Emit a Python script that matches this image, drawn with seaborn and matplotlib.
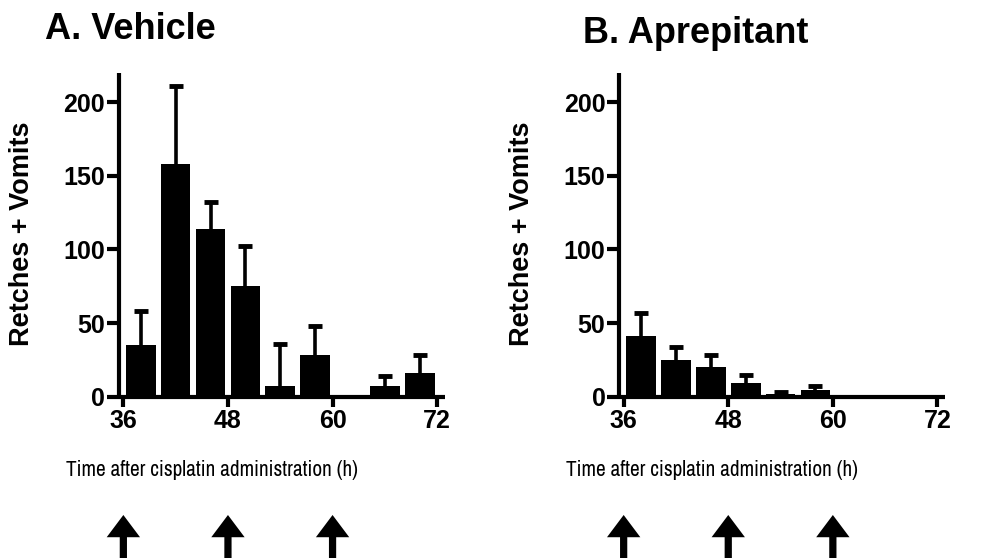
import matplotlib
matplotlib.use("Agg")
import matplotlib.pyplot as plt
import seaborn as sns
import numpy as np
import pandas as pd
from matplotlib import font_manager

# ---- data ----
times = [38, 42, 46, 50, 54, 58, 62, 66, 70]
vehicle_mean = [35, 158, 114, 75, 7, 28, 0, 7, 16]
vehicle_err = [23, 53, 18, 27, 29, 20, 0, 7, 12]
aprepitant_mean = [41, 25, 20, 9, 1.5, 4.5, 0, 0, 0]
aprepitant_err = [16, 9, 8, 6, 1.5, 2.5, 0, 0, 0]
panel_titles = ["A. Vehicle", "B. Aprepitant"]
xticks = [36, 48, 60, 72]
yticks = [0, 50, 100, 150, 200]
arrow_times = [36, 48, 60]
ylabel = "Retches + Vomits"
xlabel = "Time after cisplatin administration (h)"

sns.set_theme(style="ticks")
plt.rcParams["font.family"] = ["Liberation Sans", "DejaVu Sans"]
for k in ["text.color", "axes.edgecolor", "axes.labelcolor", "xtick.color", "ytick.color"]:
    plt.rcParams[k] = "black"

names = sorted({f.name for f in font_manager.fontManager.ttflist})
narrow = None
if "Liberation Sans Narrow" in names:
    narrow = "Liberation Sans Narrow"
else:
    for n in names:
        if "Narrow" in n or "Condensed" in n:
            narrow = n
            break
if narrow is None:
    narrow = "Liberation Sans"
    xl_size = 12.8
else:
    xl_size = 15.3

W, H = 997, 558
fig = plt.figure(figsize=(W / 100, H / 100), dpi=100)

def fx(px):
    return px / W

def fy(py):
    return 1 - py / H

ax_left_px = [119, 619.3]
ax_top, ax_bot = 72.7, 396.7
ax_w = 326

datasets = [(vehicle_mean, vehicle_err), (aprepitant_mean, aprepitant_err)]
title_pos = [(45, 39), (583, 43)]

for i in range(2):
    L = ax_left_px[i]
    ax = fig.add_axes([fx(L), fy(ax_bot), ax_w / W, (ax_bot - ax_top) / H])
    means, errs = datasets[i]
    df = pd.DataFrame({"t": times, "v": means})
    sns.barplot(data=df, x="t", y="v", native_scale=True, color="black",
                saturation=1, width=0.85, ax=ax, errorbar=None,
                edgecolor="black", linewidth=0, zorder=2)
    eb = ax.errorbar(times, means, yerr=[np.zeros(len(errs)), errs], fmt="none",
                     ecolor="black", elinewidth=2.6, capsize=5, capthick=3.5,
                     zorder=1)
    caps = eb[1]
    if len(caps) >= 2:
        caps[0].set_visible(False)
    ax.set_xlim(35.5, 72.9)
    ax.set_ylim(0, 220)
    ax.set_xticks(xticks)
    ax.set_yticks(yticks)
    ax.set_xticklabels([str(t) for t in xticks], fontweight="bold", fontsize=18)
    ax.set_yticklabels([str(t) for t in yticks], fontweight="bold", fontsize=18)
    ax.tick_params(axis="y", length=9, width=3, pad=1, colors="black")
    ax.tick_params(axis="x", length=7, width=3, pad=2, colors="black")
    ax.set_xlabel("")
    ax.set_ylabel("")
    for s in ["top", "right"]:
        ax.spines[s].set_visible(False)
    for s in ["left", "bottom"]:
        ax.spines[s].set_linewidth(3)
        ax.spines[s].set_color("black")
        ax.spines[s].set_capstyle("butt")
    ax.set_facecolor("white")

    # arrows below axes
    trans = ax.get_xaxis_transform()
    h_ax = ax_bot - ax_top
    tip = (ax_bot - 515) / h_ax
    bottom = (ax_bot - 560) / h_ax
    for at in arrow_times:
        ax.annotate("", xy=(at, tip), xytext=(at, bottom), xycoords=trans,
                    textcoords=trans, annotation_clip=False,
                    arrowprops=dict(arrowstyle="simple,head_width=1.2,head_length=0.8,tail_width=0.26",
                                    mutation_scale=20, color="black",
                                    shrinkA=0, shrinkB=0, lw=0))

    tx, ty = title_pos[i]
    fig.text(fx(tx), fy(ty), panel_titles[i], fontsize=26, fontweight="bold",
             ha="left", va="baseline")
    fig.text(fx(22 + 500 * i), fy(234), ylabel, rotation=90, fontsize=19.5,
             fontweight="bold", ha="center", va="center")
    fig.text(fx(211.5 + 500 * i), fy(470), xlabel, fontsize=xl_size,
             family=[narrow, "DejaVu Sans"], ha="center", va="center")

fig.savefig("out.png", dpi=100, facecolor="white")
